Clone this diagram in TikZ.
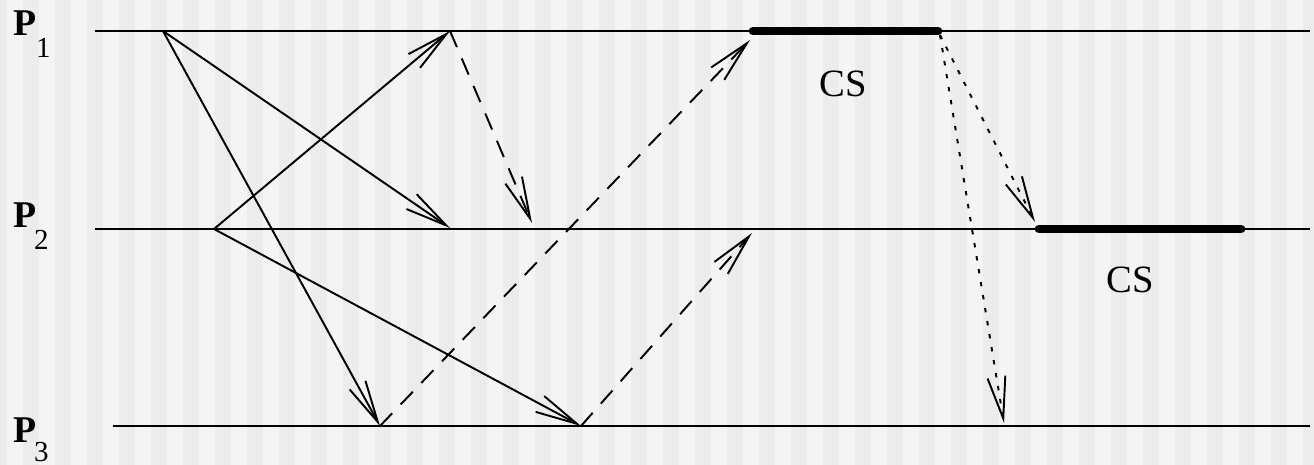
\documentclass[tikz,border=0pt]{standalone}
\usepackage{fontspec}
\setmainfont{Liberation Serif}
\usetikzlibrary{arrows.meta}
\definecolor{stripeA}{HTML}{ECECEC}
\definecolor{stripeB}{HTML}{F4F4F4}

\begin{document}
\begin{tikzpicture}[
  x=0.02cm, y=-0.02cm, line width=1.2pt,
  msg/.style={draw=black, line width=1.1pt, -{Straight Barb[length=8.4mm,width=3.6mm]}},
  reply/.style={msg, dash pattern=on 10pt off 7pt},
  release/.style={msg, dash pattern=on 2.5pt off 5pt},
  proc/.style={font=\fontsize{21.5}{24}\selectfont\bfseries, inner sep=0pt, anchor=base west},
  idx/.style={font=\fontsize{16.5}{18}\selectfont, inner sep=0pt, anchor=base west},
  cslabel/.style={font=\fontsize{22}{26}\selectfont, inner sep=0pt, anchor=base},
]
  % Striped background, 1314 x 465 px.
  \useasboundingbox (0,0) rectangle (1314,465);
  \begin{scope}
    \clip (0,0) rectangle (1314,465);
    \fill[stripeB] (0,0) rectangle (1314,465);
    \foreach \s in {0,...,41} \fill[stripeA] (-9+32*\s,0) rectangle (7+32*\s,465);
  \end{scope}

  % Process time lines.
  \def\ya{31} \def\yb{229} \def\yc{426}
  \draw (95,\ya) -- (1310,\ya);
  \draw (95,\yb) -- (1310,\yb);
  \draw (113,\yc) -- (1310,\yc);
  \node[proc] (p1) at (12,36) {P};  \node[idx] (i1) at (35,58) {1};
  \node[proc] (p2) at (12,228) {P}; \node[idx] (i2) at (33,250) {2};
  \node[proc] (p3) at (12,442) {P}; \node[idx] (i3) at (33,461) {3};

  % Events.
  \coordinate (r1) at (163,\ya);   % P1 sends requests
  \coordinate (r2) at (214,\yb);   % P2 sends requests
  \coordinate (a1) at (450,\ya);
  \coordinate (a2) at (450,228);
  \coordinate (b2) at (532,223);
  \coordinate (a3) at (380,\yc);
  \coordinate (b3) at (581,\yc);
  \coordinate (c1) at (750,40);
  \coordinate (c2) at (752,233);
  \coordinate (e1) at (940,35);    % P1 leaves CS
  \coordinate (d2) at (1035,222);
  \coordinate (d3) at (1004,423);

  % Requests.
  \draw[msg] (r1) -- (a2);
  \draw[msg] (r1) -- (a3);
  \draw[msg] (r2) -- (a1);
  \draw[msg] (r2) -- (b3);

  % Replies.
  \draw[reply] (a1) -- (b2);
  \draw[reply] (a3) -- (c1);
  \draw[reply] (b3) -- (c2);

  % Deferred replies after release.
  \draw[release] (e1) -- (d2);
  \draw[release] (e1) -- (d3);

  % Critical sections.
  \draw[line width=5pt, line cap=round] (753,\ya) -- (938,\ya);
  \draw[line width=5pt, line cap=round] (1039,\yb) -- (1241,\yb);
  \node[cslabel] (cs1) at (843,97) {CS};
  \node[cslabel] (cs2) at (1130,293) {CS};
\end{tikzpicture}
\end{document}
